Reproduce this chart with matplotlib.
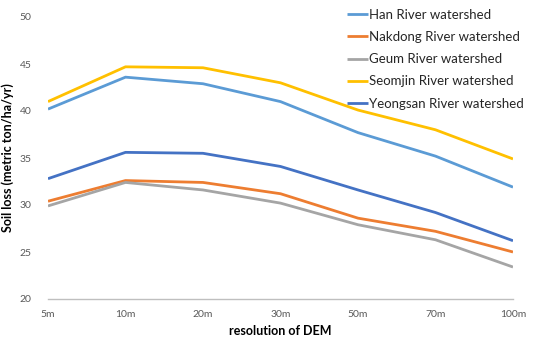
import numpy as np
import matplotlib
matplotlib.use("Agg")
import matplotlib.pyplot as plt

resolutions = ["5m", "10m", "20m", "30m", "50m", "70m", "100m"]
han = [40.2, 43.6, 42.9, 41.0, 37.7, 35.2, 31.9]
nakdong = [30.4, 32.6, 32.4, 31.2, 28.6, 27.2, 25.0]
geum = [29.9, 32.4, 31.6, 30.2, 27.9, 26.3, 23.4]
seomjin = [41.0, 44.7, 44.6, 43.0, 40.1, 38.0, 34.9]
yeongsan = [32.8, 35.6, 35.5, 34.1, 31.6, 29.2, 26.2]

series = [
    ("Han River watershed", han, "#5B9BD5"),
    ("Nakdong River watershed", nakdong, "#ED7D31"),
    ("Geum River watershed", geum, "#A5A5A5"),
    ("Seomjin River watershed", seomjin, "#FFC000"),
    ("Yeongsan River watershed", yeongsan, "#4472C4"),
]

plt.rcParams["font.family"] = ["Lato", "DejaVu Sans"]

fig = plt.figure(figsize=(5.37, 3.43), dpi=100)
ax = fig.add_axes([48 / 537, 1 - 299 / 343, (513 - 48) / 537, (299 - 17) / 343])

x = np.arange(len(resolutions))
for name, vals, col in series:
    ax.plot(x, vals, color=col, lw=2.0, label=name, solid_capstyle="butt")

ax.set_xlim(0, len(resolutions) - 1)
ax.set_ylim(20, 50)
ax.set_yticks(range(20, 51, 5))
ax.set_xticks(x)
ax.set_xticklabels(resolutions)
ax.tick_params(length=0, labelsize=7.5, labelcolor="#595959")
ax.tick_params(axis="y", pad=12)
ax.tick_params(axis="x", pad=8)

for s in ["top", "right", "left"]:
    ax.spines[s].set_visible(False)
ax.spines["bottom"].set_color("#BFBFBF")
ax.spines["bottom"].set_linewidth(1.0)

ax.set_xlabel("resolution of DEM", fontsize=9, fontweight="bold", labelpad=4)
ax.set_ylabel("Soil loss (metric ton/ha/yr)", fontsize=9, fontweight="bold", labelpad=4)

leg = ax.legend(loc="upper left", bbox_to_anchor=(338 / 537, 1.0), bbox_transform=fig.transFigure,
                frameon=False, fontsize=9.5, handlelength=1.6, handletextpad=0.1,
                labelspacing=0.78, borderaxespad=0.25)
for t in leg.get_texts():
    t.set_color("#262626")

fig.savefig("out.png", dpi=100)
